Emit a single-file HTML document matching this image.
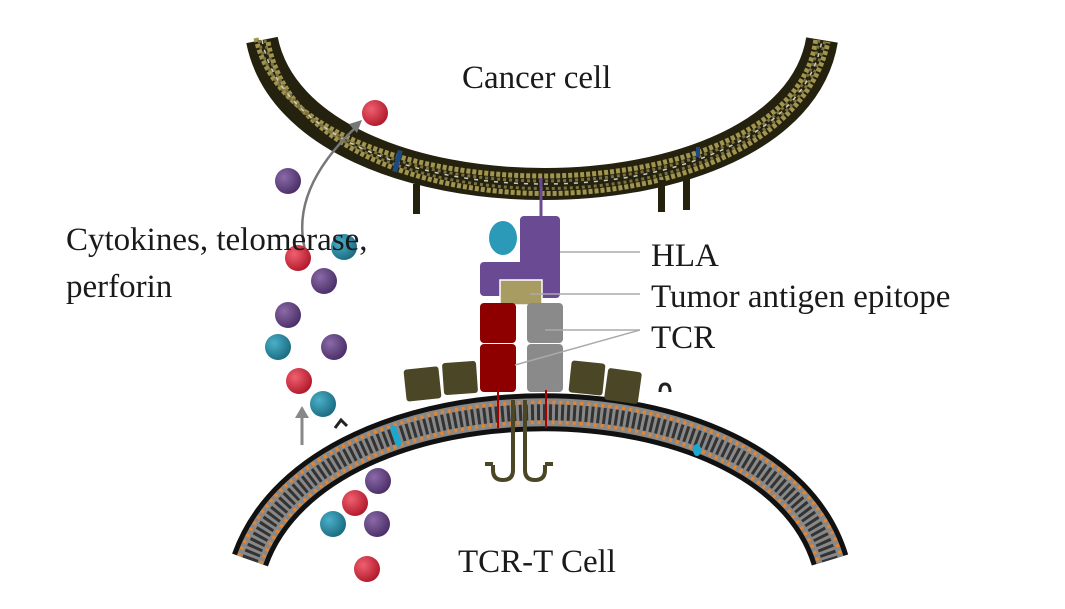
<!DOCTYPE html>
<html><head><meta charset="utf-8"><style>
html,body{margin:0;padding:0;background:#fff;}
svg{display:block}
text{font-family:"Liberation Serif",serif;fill:#1a1a1a}
</style></head><body>
<svg width="1065" height="609" viewBox="0 0 1065 609" xmlns="http://www.w3.org/2000/svg">
<defs>
<radialGradient id="gr" cx="35%" cy="35%" r="70%"><stop offset="0" stop-color="#f06070"/><stop offset="1" stop-color="#b0182a"/></radialGradient>
<radialGradient id="gp" cx="35%" cy="35%" r="70%"><stop offset="0" stop-color="#8a6aa8"/><stop offset="1" stop-color="#4a2e66"/></radialGradient>
<radialGradient id="gc" cx="35%" cy="35%" r="70%"><stop offset="0" stop-color="#4ab0c8"/><stop offset="1" stop-color="#1a6a80"/></radialGradient>
</defs>
<g fill="none">
<path d="M262,40 C300,232 790,232 822,40" stroke="#24220f" stroke-width="32"/>
<path d="M256,38 C294,222 796,222 816,38" stroke="#a0944e" stroke-width="5" stroke-dasharray="4 2"/>
<path d="M268,42 C306,244 784,244 828,42" stroke="#a0944e" stroke-width="5" stroke-dasharray="4 2"/>
<path d="M259,40 C297,228 793,228 819,40" stroke="#7a7040" stroke-width="3" stroke-dasharray="3 3"/>
<path d="M265,40 C303,238 787,238 825,40" stroke="#7a7040" stroke-width="3" stroke-dasharray="3 3"/>
<path d="M262,40 C300,232 790,232 822,40" stroke="#cfcfc0" stroke-width="1.5" stroke-dasharray="4 6"/>
</g>
<g fill="#24220f">
<rect x="413" y="184" width="7" height="30"/><rect x="658" y="180" width="7" height="32"/><rect x="683" y="176" width="7" height="34"/>
</g>
<rect x="395" y="150" width="5" height="22" fill="#1e4a80" transform="rotate(15 397 161)"/>
<rect x="696" y="147" width="4" height="10" fill="#1e4a80"/>
<g fill="none">
<path d="M250,560 C320,363 770,363 830,560" stroke="#111" stroke-width="38"/>
<path d="M250,560 C320,363 770,363 830,560" stroke="#888" stroke-width="28"/>
<path d="M250,560 C320,363 770,363 830,560" stroke="#333" stroke-width="16" stroke-dasharray="3 3"/>
<path d="M239,556 C309,351 781,351 841,556" stroke="#e8842a" stroke-width="3.5" stroke-dasharray="3 4"/>
<path d="M261,564 C331,375 759,375 819,564" stroke="#e8842a" stroke-width="3.5" stroke-dasharray="3 4"/>
</g>
<rect x="393" y="425" width="6" height="22" rx="3" fill="#1aa8d0" transform="rotate(-20 396 436)"/>
<ellipse cx="697" cy="450" rx="4" ry="6" fill="#1aa8d0"/>
<line x1="541" y1="178" x2="541" y2="217" stroke="#6a4a90" stroke-width="3"/>
<rect x="520" y="216" width="40" height="82" rx="4" fill="#6a4a92"/>
<rect x="480" y="262" width="44" height="34" rx="4" fill="#6a4a92"/>
<ellipse cx="503" cy="238" rx="14" ry="17" fill="#2a9ab8"/>
<rect x="500" y="280" width="42" height="25" fill="#a89c62" stroke="#fff" stroke-width="1.5"/>
<rect x="480" y="303" width="36" height="40" rx="4" fill="#8e0000"/>
<rect x="480" y="344" width="36" height="48" rx="4" fill="#8e0000"/>
<rect x="527" y="303" width="36" height="40" rx="4" fill="#8a8a8a"/>
<rect x="527" y="344" width="36" height="48" rx="4" fill="#8a8a8a"/>
<line x1="498" y1="390" x2="498" y2="428" stroke="#a00" stroke-width="2"/>
<line x1="546" y1="390" x2="546" y2="428" stroke="#a00" stroke-width="2"/>
<g fill="#4a4626">
<rect x="405" y="368" width="35" height="32" rx="3" transform="rotate(-6 422 384)"/>
<rect x="443" y="362" width="34" height="32" rx="3" transform="rotate(-4 460 378)"/>
<rect x="570" y="362" width="34" height="32" rx="3" transform="rotate(6 587 378)"/>
<rect x="606" y="370" width="34" height="32" rx="3" transform="rotate(8 623 386)"/>
</g>
<g fill="none" stroke="#4a4626" stroke-width="4">
<path d="M513,400 V470 Q513,480 503,480 Q493,480 493,470 V465 M493,464 H485"/>
<path d="M525,400 V470 Q525,480 535,480 Q545,480 545,470 V465 M545,464 H553"/>
</g>
<path d="M660,392 q0,-8 5,-8 q5,0 5,8" fill="none" stroke="#222" stroke-width="3"/>
<path d="M335,428 l6,-8 l6,6" fill="none" stroke="#222" stroke-width="3"/>
<g stroke="#aaa" stroke-width="1.5">
<line x1="560" y1="252" x2="640" y2="252"/>
<line x1="530" y1="294" x2="640" y2="294"/>
<line x1="545" y1="330" x2="640" y2="330"/>
<line x1="515" y1="365" x2="640" y2="330"/>
</g>
<path d="M305,250 Q290,190 355,128" fill="none" stroke="#777" stroke-width="2.5"/>
<path d="M349,124 L362,120 L357,133 Z" fill="#777"/>
<line x1="302" y1="445" x2="302" y2="414" stroke="#888" stroke-width="3"/>
<path d="M295,418 L302,406 L309,418 Z" fill="#888"/>
<g>
<circle cx="375" cy="113" r="13" fill="url(#gr)"/>
<circle cx="288" cy="181" r="13" fill="url(#gp)"/>
<circle cx="344" cy="247" r="13" fill="url(#gc)"/>
<circle cx="298" cy="258" r="13" fill="url(#gr)"/>
<circle cx="324" cy="281" r="13" fill="url(#gp)"/>
<circle cx="288" cy="315" r="13" fill="url(#gp)"/>
<circle cx="278" cy="347" r="13" fill="url(#gc)"/>
<circle cx="334" cy="347" r="13" fill="url(#gp)"/>
<circle cx="299" cy="381" r="13" fill="url(#gr)"/>
<circle cx="323" cy="404" r="13" fill="url(#gc)"/>
<circle cx="378" cy="481" r="13" fill="url(#gp)"/>
<circle cx="355" cy="503" r="13" fill="url(#gr)"/>
<circle cx="333" cy="524" r="13" fill="url(#gc)"/>
<circle cx="377" cy="524" r="13" fill="url(#gp)"/>
<circle cx="367" cy="569" r="13" fill="url(#gr)"/>
</g>
<text x="462" y="88" font-size="33">Cancer cell</text>
<text x="66" y="250" font-size="33">Cytokines, telomerase,</text>
<text x="66" y="297" font-size="33">perforin</text>
<text x="651" y="266" font-size="33">HLA</text>
<text x="651" y="307" font-size="33">Tumor antigen epitope</text>
<text x="651" y="348" font-size="33">TCR</text>
<text x="458" y="572" font-size="33">TCR-T Cell</text>
</svg>
</body></html>
